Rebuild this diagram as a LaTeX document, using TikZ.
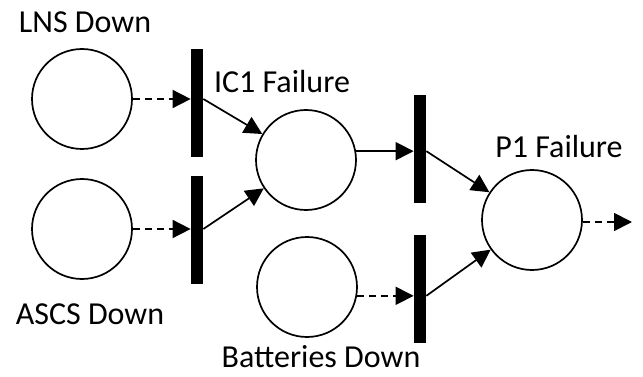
\documentclass[tikz,border=0pt]{standalone}
\usepackage{fontspec}
\setmainfont{Carlito}
\usetikzlibrary{
    arrows.meta,
    calc
}
\tikzset{
  every path/.style={
    black,
    line width=1.7pt
  },
  place/.style={
    draw,
    circle,
    minimum size=100pt,
    inner sep=0pt
  },
  trans/.style={
    draw,
    fill=black,
    rectangle,
    minimum width=11pt,
    minimum height=106pt,
    inner sep=0pt
  },
  lbl/.style={
    inner sep=0pt,
    font=\fontsize{32}{34}\selectfont
  },
  arc/.style={
    -{Triangle[length=18pt,width=18pt]}
  },
  dasharc/.style={
    arc,
    dash pattern=on 7pt off 5pt
  }
}

\begin{document}
\begin{tikzpicture}[x=1pt,y=-1pt]
    \useasboundingbox (0,0) rectangle (643,377);

    % プレース
    \node[place] (lns) at (82,99) {};
    \node[place] (ascs) at (82,229) {};
    \node[place] (ic1) at (306,160) {};
    \node[place] (bat) at (307,287) {};
    \node[place] (p1) at (532,220) {};

    % トランジション
    \node[trans] (t1) at (197,103) {};
    \node[trans] (t2) at (197,230) {};
    \node[trans] (t3) at (420,149) {};
    \node[trans] (t4) at (420,289) {};

    % ラベル
    \node[lbl] (lnsL) at (85,22) {LNS Down};
    \node[lbl] (ascsL) at (90,314) {ASCS Down};
    \node[lbl] (ic1L) at (282,82) {IC1 Failure};
    \node[lbl] (batL) at (321,357) {Batteries Down};
    \node[lbl] (p1L) at (559,147) {P1 Failure};
    \coordinate (out) at (632,222);

    % アーク
    \draw[dasharc] (lns) -- (lns -| t1.west);
    \draw[dasharc] (ascs) -- (ascs -| t2.west);
    \draw[arc] (t1.east |- lns) -- (ic1);
    \draw[arc] (t2.east |- ascs) -- (ic1);
    \draw[arc] (ic1.10) -- (ic1.10 -| t3.west);
    \draw[dasharc] (bat.-10) -- (bat.-10 -| t4.west);
    \draw[arc] (t3.east |- ic1.10) -- (p1);
    \draw[arc] (t4.east |- bat.-10) -- (p1);
    \draw[dasharc] (p1.east |- out) -- (out);
\end{tikzpicture}
\end{document}
